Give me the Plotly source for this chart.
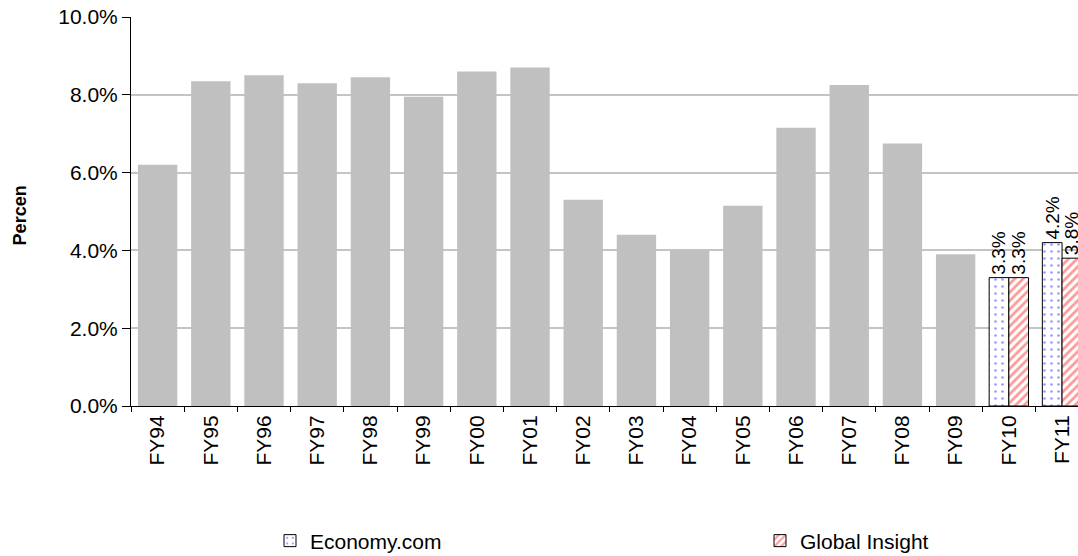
import plotly.graph_objects as go

# Annual growth rates, percent
hist_years = ["FY94", "FY95", "FY96", "FY97", "FY98", "FY99", "FY00", "FY01",
              "FY02", "FY03", "FY04", "FY05", "FY06", "FY07", "FY08", "FY09"]
hist_values = [6.2, 8.35, 8.5, 8.3, 8.45, 7.95, 8.6, 8.7,
               5.3, 4.4, 4.0, 5.15, 7.15, 8.25, 6.75, 3.9]

forecast_years = ["FY10", "FY11"]
economy_values = [3.3, 4.2]
global_values = [3.3, 3.8]

all_years = hist_years + forecast_years
y_ticks = [0, 2, 4, 6, 8, 10]

FONT = "Arial, Liberation Sans, sans-serif"
PLOT_W = 1078 - 131

fig = go.Figure()

fig.add_trace(go.Bar(
    x=hist_years, y=hist_values,
    marker=dict(color="#c0c0c0", line=dict(width=0)),
    width=0.74, showlegend=False, hoverinfo="x+y",
))

fig.add_trace(go.Bar(
    name="Economy.com", legend="legend",
    x=forecast_years, y=economy_values,
    width=0.37, offset=-0.37,
    marker=dict(color="white", line=dict(color="black", width=1),
                pattern=dict(shape=".", fgcolor="#3a3aff", bgcolor="white",
                             size=7, solidity=0.12)),
    text=[f"{v:.1f}%" for v in economy_values],
    textposition="outside", textangle=-90, constraintext="none",
    textfont=dict(family=FONT, size=19, color="black"),
    cliponaxis=False,
))

fig.add_trace(go.Bar(
    name="Global Insight", legend="legend2",
    x=forecast_years, y=global_values,
    width=0.37, offset=0,
    marker=dict(color="white", line=dict(color="black", width=1),
                pattern=dict(shape="/", fgcolor="#ff3030", bgcolor="white",
                             size=6, solidity=0.45)),
    text=[f"{v:.1f}%" for v in global_values],
    textposition="outside", textangle=-90, constraintext="none",
    textfont=dict(family=FONT, size=19, color="black"),
    cliponaxis=False,
))

legend_common = dict(
    orientation="h", xanchor="left", yanchor="middle", y=-0.347,
    font=dict(family=FONT, size=21, color="black"),
    bgcolor="rgba(0,0,0,0)", itemclick=False,
)

fig.update_layout(
    width=1078, height=556,
    margin=dict(l=131, r=0, t=17, b=150, autoexpand=False),
    paper_bgcolor="white", plot_bgcolor="white",
    font=dict(family=FONT, size=21, color="black"),
    barmode="overlay",
    showlegend=True,
    legend=dict(x=(270 - 131) / PLOT_W, **legend_common),
    legend2=dict(x=(760 - 131) / PLOT_W, **legend_common),
    annotations=[dict(
        text="<b>Percen</b>", textangle=-90,
        xref="paper", yref="paper", x=(20 - 131) / PLOT_W, y=0.49,
        xanchor="center", yanchor="middle", showarrow=False,
        font=dict(family=FONT, size=18, color="black"),
    )],
)

fig.update_xaxes(
    type="category", categoryorder="array", categoryarray=all_years,
    range=[-0.5, 17.3], automargin=False,
    showline=True, linecolor="black", linewidth=1,
    ticks="outside", ticklen=5, tickcolor="black", tickson="boundaries",
    tickangle=-90, tickfont=dict(family=FONT, size=21, color="black"),
    showgrid=False,
)

fig.update_yaxes(
    range=[0, 10], tickvals=y_ticks, automargin=False,
    ticktext=[f"{v:.1f}%" for v in y_ticks],
    showline=True, linecolor="black", linewidth=1,
    ticks="outside", ticklen=8, tickcolor="black",
    tickfont=dict(family=FONT, size=21, color="black"),
    showgrid=True, gridcolor="#c4c4c4", gridwidth=1.5,
    zeroline=False,
)

fig.write_html("out.html")
